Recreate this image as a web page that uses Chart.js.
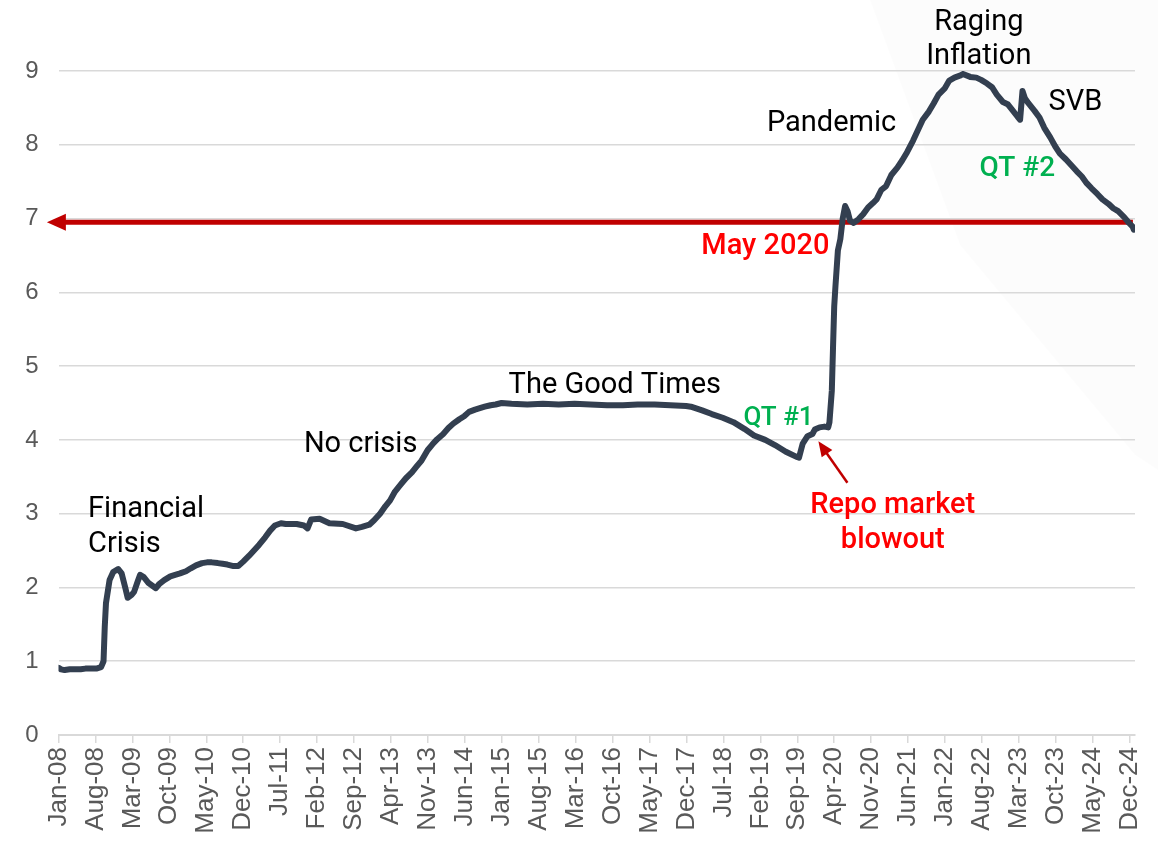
<!DOCTYPE html>
<html><head><meta charset="utf-8">
<script src="https://cdn.jsdelivr.net/npm/chart.js@4.4.1/dist/chart.umd.min.js"></script>
<style>html,body{margin:0;padding:0;background:#fff;}#wrap{position:relative;width:1158px;height:851px;}</style>
</head><body><div id="wrap"><canvas id="c" width="1158" height="851"></canvas></div>
<script>
// ---- DATA ----
const tickLabels = ["Jan-08","Aug-08","Mar-09","Oct-09","May-10","Dec-10","Jul-11","Feb-12","Sep-12","Apr-13","Nov-13","Jun-14","Jan-15","Aug-15","Mar-16","Oct-16","May-17","Dec-17","Jul-18","Feb-19","Sep-19","Apr-20","Nov-20","Jun-21","Jan-22","Aug-22","Mar-23","Oct-23","May-24","Dec-24"];
const yTicks = [0,1,2,3,4,5,6,7,8,9];
const dates = [
"2008-01-02","2008-01-16","2008-02-06","2008-03-05","2008-04-02","2008-05-07","2008-06-04","2008-07-02","2008-08-06","2008-09-03","2008-09-17","2008-09-24","2008-10-01","2008-10-22","2008-11-12","2008-12-10","2008-12-31","2009-01-21","2009-02-04","2009-02-25","2009-03-11","2009-04-01","2009-04-15","2009-05-06","2009-06-03","2009-07-15","2009-08-05","2009-09-02","2009-10-07","2009-11-04","2009-12-02",
"2010-01-06","2010-02-03","2010-03-03","2010-04-07","2010-05-05","2010-06-02","2010-07-07","2010-08-04","2010-09-01","2010-10-06","2010-11-03","2010-12-01",
"2011-01-05","2011-02-02","2011-03-02","2011-04-06","2011-05-04","2011-06-01","2011-07-06","2011-08-03","2011-09-07","2011-10-05","2011-11-16","2011-12-07","2011-12-28",
"2012-02-15","2012-04-11","2012-06-27","2012-09-12","2012-10-17","2012-11-28","2012-12-26",
"2013-01-30","2013-02-27","2013-03-27","2013-04-24","2013-05-29","2013-06-26","2013-07-31","2013-08-28","2013-09-25","2013-10-30","2013-11-27","2013-12-25",
"2014-01-29","2014-02-26","2014-03-26","2014-04-30","2014-05-28","2014-06-25","2014-07-30","2014-08-27","2014-09-24","2014-10-29","2014-11-26","2014-12-31",
"2015-02-25","2015-05-27","2015-08-26","2015-11-25","2016-02-24","2016-05-25","2016-08-31","2016-11-30","2017-02-22","2017-05-31","2017-08-30","2017-11-29","2017-12-27",
"2018-02-28","2018-04-25","2018-06-27","2018-08-29","2018-10-31","2018-12-26","2019-02-27","2019-04-24","2019-06-26","2019-08-28","2019-09-11","2019-10-02","2019-10-30","2019-11-27","2019-12-11",
"2020-01-08","2020-02-05","2020-02-26","2020-03-04","2020-03-18","2020-03-25","2020-04-01","2020-04-08","2020-04-22","2020-05-06","2020-05-20","2020-06-03","2020-06-17","2020-07-01","2020-07-22","2020-08-19","2020-09-16","2020-10-14","2020-11-11","2020-12-02","2020-12-30",
"2021-01-27","2021-02-24","2021-03-31","2021-04-28","2021-05-26","2021-06-30","2021-07-28","2021-08-25","2021-09-29","2021-10-27","2021-11-24","2021-12-29",
"2022-01-26","2022-02-23","2022-03-30","2022-04-13","2022-05-25","2022-06-29","2022-07-27","2022-08-31","2022-09-28","2022-10-26","2022-11-30","2022-12-28",
"2023-01-25","2023-02-22","2023-03-08","2023-03-22","2023-04-05","2023-04-26","2023-05-31","2023-06-28","2023-07-26","2023-08-30","2023-09-27","2023-10-25","2023-11-29","2023-12-27",
"2024-01-31","2024-02-28","2024-03-27","2024-04-24","2024-05-29","2024-06-26","2024-07-31","2024-08-28","2024-09-25","2024-10-30","2024-11-27","2024-12-18","2024-12-25"
];
const balance = [
0.91,0.89,0.88,0.89,0.89,0.89,0.90,0.90,0.90,0.92,1.00,1.47,1.79,2.10,2.21,2.25,2.19,2.00,1.86,1.90,1.94,2.08,2.17,2.14,2.06,1.99,2.05,2.10,2.15,2.17,2.19,
2.22,2.26,2.30,2.33,2.34,2.34,2.33,2.32,2.31,2.29,2.29,2.35,
2.43,2.50,2.58,2.68,2.77,2.84,2.87,2.86,2.86,2.86,2.84,2.80,2.92,
2.93,2.87,2.86,2.80,2.82,2.85,2.91,
3.00,3.10,3.18,3.30,3.40,3.48,3.56,3.64,3.72,3.86,3.94,4.01,
4.08,4.16,4.22,4.28,4.32,4.38,4.41,4.43,4.45,4.47,4.48,4.50,
4.49,4.48,4.49,4.48,4.49,4.48,4.47,4.47,4.48,4.48,4.47,4.46,4.45,
4.40,4.35,4.30,4.24,4.15,4.06,4.00,3.93,3.84,3.77,3.76,3.95,4.05,4.08,4.14,
4.17,4.18,4.17,4.24,4.67,5.25,5.81,6.08,6.57,6.72,7.00,7.17,7.10,6.97,6.94,6.99,7.06,7.15,7.21,7.26,7.39,
7.44,7.59,7.69,7.79,7.90,8.06,8.20,8.34,8.45,8.56,8.68,8.76,
8.87,8.91,8.94,8.96,8.92,8.91,8.88,8.83,8.78,8.68,8.58,8.55,
8.47,8.38,8.34,8.73,8.63,8.56,8.46,8.37,8.23,8.10,7.98,7.88,7.80,7.73,
7.64,7.57,7.48,7.41,7.33,7.26,7.20,7.14,7.10,7.02,6.94,6.89,6.85
];
const may2020Level = 6.95;

// ---- helpers ----
function monthIndex(s){
  const [Y,M,D] = s.split('-').map(Number);
  const dim = new Date(Y, M, 0).getDate();
  return (Y-2008)*12 + (M-1) + (D-1)/dim;
}
const points = dates.map((d,i)=>({x: monthIndex(d), y: balance[i]}));

// annotation anchors in chart units (month index, value)
const notes = [
  {t:"Financial", m:5.6, v:2.96, align:"left", color:"#000", size:29, w:400},
  {t:"Crisis", m:5.6, v:2.48, align:"left", color:"#000", size:29, w:400},
  {t:"No crisis", m:46.5, v:3.84, align:"left", color:"#000", size:29, w:400},
  {t:"The Good Times", m:85.3, v:4.64, align:"left", color:"#000", size:29, w:400},
  {t:"QT #1", m:129.8, v:4.20, align:"left", color:"#00B050", size:26, w:500},
  {t:"Pandemic", m:146.5, v:8.19, align:"center", color:"#000", size:29, w:400},
  {t:"Raging", m:174.4, v:9.56, align:"center", color:"#000", size:29, w:400},
  {t:"Inflation", m:174.4, v:9.09, align:"center", color:"#000", size:29, w:400},
  {t:"SVB", m:192.7, v:8.47, align:"center", color:"#000", size:29, w:400},
  {t:"QT #2", m:181.7, v:7.58, align:"center", color:"#00B050", size:28, w:500},
  {t:"May 2020", m:146.1, v:6.52, align:"right", color:"#FF0000", size:29, w:500},
  {t:"Repo market", m:158.1, v:3.01, align:"center", color:"#FF0000", size:29, w:500},
  {t:"blowout", m:158.1, v:2.53, align:"center", color:"#FF0000", size:29, w:500}
];
const repoArrow = {from:{m:149.5, v:3.42}, to:{m:144.0, v:3.98}};
const refLine = {fromM:-2.2, toM:203.6};

const annotPlugin = {
  id:'annot',
  beforeDraw(chart){
    const c = chart.ctx;
    c.save();
    c.fillStyle = 'rgba(0,0,0,0.012)';
    c.beginPath();
    c.moveTo(870,0); c.lineTo(1158,0); c.lineTo(1158,470); c.lineTo(1135,455); c.lineTo(960,245); c.closePath();
    c.fill();
    c.restore();
  },
  beforeDatasetsDraw(chart){
    const c = chart.ctx, xs = chart.scales.x, ys = chart.scales.y;
    const y = ys.getPixelForValue(may2020Level);
    const x0 = xs.getPixelForValue(refLine.fromM), x1 = xs.getPixelForValue(refLine.toM);
    c.save();
    c.strokeStyle = '#C00000'; c.fillStyle = '#C00000'; c.lineWidth = 5;
    c.beginPath(); c.moveTo(x0+16, y); c.lineTo(x1, y); c.stroke();
    c.beginPath(); c.moveTo(x0, y); c.lineTo(x0+19, y-8.5); c.lineTo(x0+19, y+8.5); c.closePath(); c.fill();
    c.restore();
  },
  afterDatasetsDraw(chart){
    const c = chart.ctx, xs = chart.scales.x, ys = chart.scales.y;
    c.save();
    c.textBaseline = 'alphabetic';
    notes.forEach(n=>{
      c.font = `${n.w} ${n.size}px Roboto`;
      c.fillStyle = n.color; c.textAlign = n.align;
      c.fillText(n.t, xs.getPixelForValue(n.m), ys.getPixelForValue(n.v));
    });
    // repo arrow
    const ax = xs.getPixelForValue(repoArrow.from.m), ay = ys.getPixelForValue(repoArrow.from.v);
    const bx = xs.getPixelForValue(repoArrow.to.m), by = ys.getPixelForValue(repoArrow.to.v);
    const ang = Math.atan2(by-ay, bx-ax);
    const L = 15, W = 6.5;
    c.strokeStyle = '#C00000'; c.fillStyle = '#C00000'; c.lineWidth = 2.5;
    c.beginPath(); c.moveTo(ax, ay); c.lineTo(bx - Math.cos(ang)*L*0.8, by - Math.sin(ang)*L*0.8); c.stroke();
    c.beginPath();
    c.moveTo(bx, by);
    c.lineTo(bx - Math.cos(ang)*L + Math.sin(ang)*W, by - Math.sin(ang)*L - Math.cos(ang)*W);
    c.lineTo(bx - Math.cos(ang)*L - Math.sin(ang)*W, by - Math.sin(ang)*L + Math.cos(ang)*W);
    c.closePath(); c.fill();
    c.restore();
  }
};

new Chart(document.getElementById('c').getContext('2d'), {
  type:'line',
  data:{datasets:[{data:points, borderColor:'#333F50', borderWidth:6, pointRadius:0, tension:0,
    borderCapStyle:'round', borderJoinStyle:'round', fill:false}]},
  options:{
    responsive:false, animation:false, devicePixelRatio:1,
    layout:{padding:{top:71, right:23, left:0, bottom:0}},
    plugins:{legend:{display:false}, tooltip:{enabled:false}},
    scales:{
      x:{type:'linear', min:0, max:204,
        afterBuildTicks:s=>{ s.ticks = tickLabels.map((_,i)=>({value:i*7})); },
        afterFit:s=>{ s.height = 116; s.paddingRight = 0; s.paddingLeft = 0; },
        grid:{display:true, drawOnChartArea:false, drawTicks:true, tickLength:8, color:'#D9D9D9', lineWidth:1.5},
        border:{display:true, color:'#D9D9D9', width:2},
        ticks:{autoSkip:false, maxRotation:90, minRotation:90, padding:4, color:'#595959',
          font:{family:'Liberation Sans', size:26}, callback:v=>tickLabels[Math.round(v/7)]}
      },
      y:{min:0, max:9,
        afterBuildTicks:s=>{ s.ticks = yTicks.map(v=>({value:v})); },
        afterFit:s=>{ s.width = 58.5; },
        grid:{color:'#D9D9D9', lineWidth:1.5, drawTicks:false},
        border:{display:false},
        ticks:{padding:20, color:'#595959', font:{family:'Liberation Sans', size:24}}
      }
    }
  },
  plugins:[annotPlugin]
});
</script></body></html>
